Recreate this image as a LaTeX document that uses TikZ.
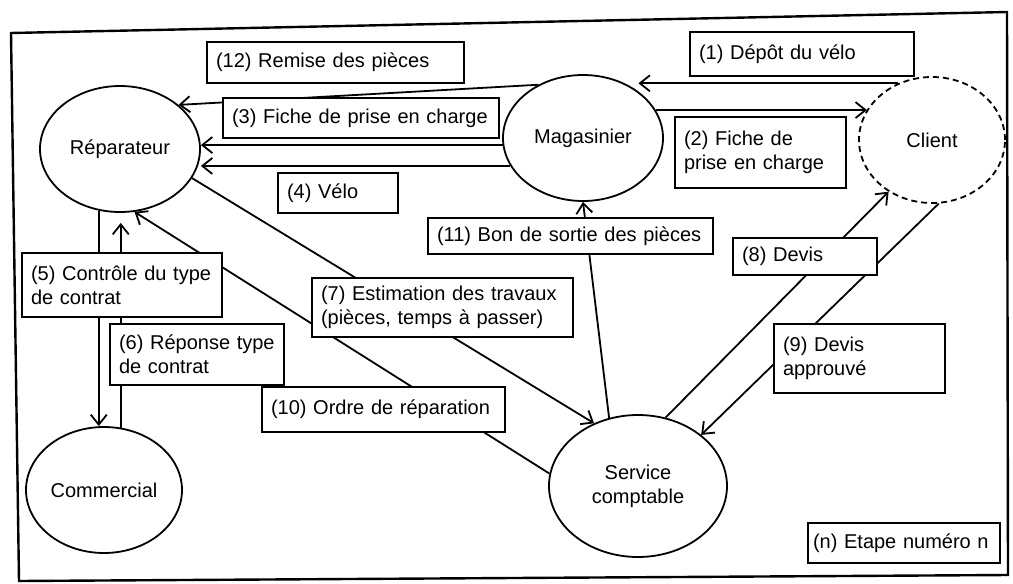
\documentclass[tikz,border=0pt]{standalone}
\usepackage{fontspec}
\setmainfont{Liberation Sans}
\usetikzlibrary{arrows.meta,shapes.geometric}

\tikzset{
  bulle/.style={draw, ellipse, line width=1.8pt, inner sep=0pt, align=center},
  etiq/.style={draw, fill=white, line width=2pt, align=left, inner xsep=9pt, inner ysep=0pt},
  fleche/.style={line width=1.8pt, -{Straight Barb[length=10pt,width=16pt,line width=1.8pt]}}
}

\begin{document}
\begin{tikzpicture}[x=1pt,y=-1pt,font=\fontsize{20}{24}\selectfont]
	\useasboundingbox (0,0) rectangle (1013,584);
	\draw [line width=2.4pt] (11,33) -- (1007,12) -- (1008,575) -- (19,581) -- cycle;
	% acteurs
	\node[bulle, minimum width=160pt, minimum height=126pt] (rep) at (120,149) {Réparateur};
	\node[bulle, minimum width=160pt, minimum height=126pt] (mag) at (583,138) {Magasinier};
	\node[bulle, dash pattern=on 6pt off 4pt, minimum width=146pt, minimum height=126pt] (cli) at (932,140) {Client};
	\node[bulle, minimum width=156pt, minimum height=126pt] (com) at (104,490) {Commercial};
	\node[bulle, minimum width=178pt, minimum height=142pt] (svc) at (638,486) {Service\\comptable};
	% flux
	\draw[fleche] (cli.121) -- (mag.40 |- cli.121);
	\draw[fleche] (mag.21) -- (cli.155 |- mag.21);
	\draw[fleche] (mag.130) -- (rep.37);
	\draw[fleche] (mag.185) -- (rep.east |- mag.185);
	\draw[fleche] (mag.201) -- (rep.east |- mag.201);
	\draw[fleche] (rep.251) -- (rep.251 |- com.north);
	\draw[fleche, shorten >=10pt] (com.75) -- (com.75 |- rep.south);
	\draw[fleche] (rep.338) -- (svc.125);
	\draw[fleche] (svc.172) -- (rep.283);
	\draw[fleche] (svc.113) -- (mag.south);
	\draw[fleche] (svc.68) -- (cli.230);
	\draw[fleche] (cli.276) -- (svc.39);
	% etiquettes
	\node[etiq, text width=239pt, minimum height=41pt] (e12) at (335.5,62.5) {(12) Remise des pièces};
	\node[etiq, text width=258pt, minimum height=40pt] (e3) at (361,118) {(3) Fiche de prise en charge};
	\node[etiq, text width=102pt, minimum height=40pt] (e4) at (338,193) {(4) Vélo};
	\node[etiq, text width=267pt, minimum height=36pt] (e11) at (570.5,236) {(11) Bon de sortie des pièces};
	\node[etiq, text width=206pt, minimum height=44pt] (e1) at (802,54) {(1) Dépôt du vélo};
	\node[etiq, text width=153pt, minimum height=71pt] (e2) at (760.5,152.5) {(2) Fiche de\\prise en charge};
	\node[etiq, text width=126pt, minimum height=37pt] (e8) at (805,256.5) {(8) Devis};
	\node[etiq, text width=153pt, minimum height=69pt] (e9) at (859.5,358.5) {(9) Devis\\approuvé};
	\node[etiq, inner xsep=5pt, text width=182pt, minimum height=40pt] (en) at (904,543) {(n) Etape numéro n};
	\node[etiq, text width=182pt, minimum height=64pt] (e5) at (122,285) {(5) Contrôle du type\\de contrat};
	\node[etiq, text width=156pt, minimum height=61pt] (e6) at (197,354.5) {(6) Réponse type\\de contrat};
	\node[etiq, text width=243pt, minimum height=59pt] (e7) at (442.5,307.5) {(7) Estimation des travaux\\(pièces, temps à passer)};
	\node[etiq, text width=225pt, minimum height=45pt] (e10) at (383.5,409.5) {(10) Ordre de réparation};
\end{tikzpicture}
\end{document}
